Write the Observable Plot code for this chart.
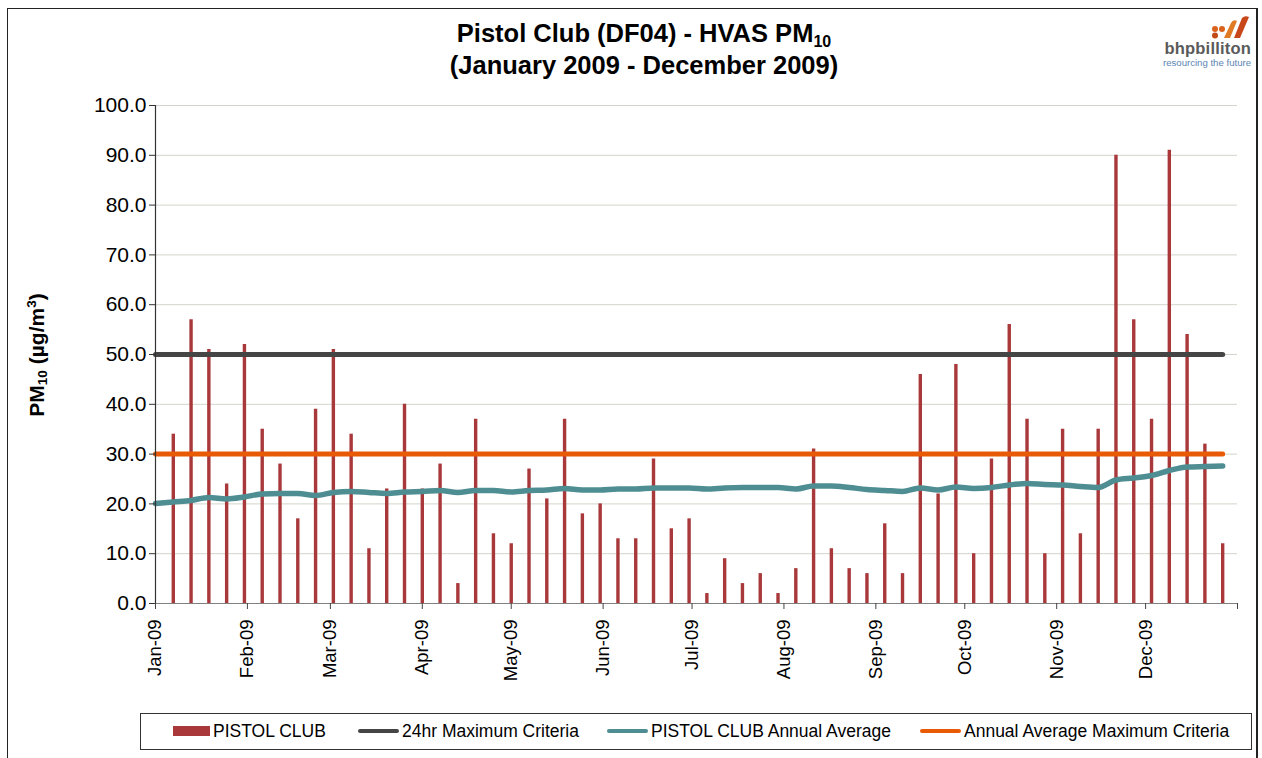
<!DOCTYPE html>
<html>
<head>
<meta charset="utf-8">
<script src="https://cdn.jsdelivr.net/npm/d3@7"></script>
<script src="https://cdn.jsdelivr.net/npm/@observablehq/plot@0.6"></script>
<style>
  html, body { margin: 0; padding: 0; background: #fff; width: 1262px; height: 758px; overflow: hidden; font-family: "Liberation Sans", Arial, sans-serif; }
  #frame { position: absolute; left: 7px; top: 8px; width: 1251px; height: 760px; border: 1px solid #222; border-right: 2px solid #222; box-sizing: border-box; }
  #chart { position: absolute; left: 0; top: 0; }
  #title { position: absolute; left: 0; width: 1288px; top: 17px; text-align: center; font-weight: bold; font-size: 25.5px; line-height: 32px; color: #000; }
  #title sub { font-size: 16px; vertical-align: -5px; line-height: 0; }
  #ylabel { position: absolute; left: 37px; top: 355px; transform: translate(-50%, -50%) rotate(-90deg); white-space: nowrap; font-weight: bold; font-size: 21px; color: #000; }
  #ylabel sub { font-size: 13.5px; vertical-align: -3px; line-height: 0; }
  #ylabel sup { font-size: 13.5px; vertical-align: 8px; line-height: 0; }
  #legend { position: absolute; left: 140px; top: 713px; width: 1112px; height: 37px; border: 1px solid #333; box-sizing: border-box; font-size: 17.5px; color: #000; }
  .item { position: absolute; top: 7px; white-space: nowrap; }
  .sw { display: inline-block; vertical-align: middle; margin-right: 3px; position: relative; top: -1px; }
  #logo { position: absolute; right: 11px; top: 15px; width: 110px; text-align: right; }
  #logo .name { font-size: 16.5px; font-weight: bold; color: #5a5a5a; letter-spacing: 0.2px; line-height: 17px; margin-top: 1px; }
  #logo .tag { font-size: 9.6px; color: #5b86b3; line-height: 12px; }
</style>
</head>
<body>
<div id="frame"></div>
<div id="chart"></div>
<div id="title">Pistol Club (DF04) - HVAS PM<sub>10</sub><br>(January 2009 - December 2009)</div>
<div id="ylabel">PM<sub>10</sub> (µg/m<sup>3</sup>)</div>
<div id="logo">
  <svg width="40" height="24" viewBox="0 0 40 24" style="display:block;margin-left:auto;margin-right:0">
    <circle cx="4" cy="14" r="3" fill="#d9621c"/>
    <circle cx="4" cy="20.5" r="3" fill="#c24a16"/>
    <circle cx="11" cy="14" r="3" fill="#d9621c"/>
    <path d="M13 23 L20 8 Q22 4 26 6 L19 23 Z" fill="#e07a25"/>
    <path d="M23 23 L31 3 Q34 0 38 2 L29 23 Z" fill="#c9461a"/>
  </svg>
  <div class="name">bhpbilliton</div>
  <div class="tag">resourcing the future</div>
</div>
<div id="legend">
  <div class="item" style="left:32px"><span class="sw" style="width:37px;height:10px;background:#a8383a"></span>PISTOL CLUB</div>
  <div class="item" style="left:217px"><span class="sw" style="width:41px;height:4px;border-radius:2px;background:#454545"></span>24hr Maximum Criteria</div>
  <div class="item" style="left:466px"><span class="sw" style="width:41px;height:4px;border-radius:2px;background:#4e8e93"></span>PISTOL CLUB Annual Average</div>
  <div class="item" style="left:779px"><span class="sw" style="width:41px;height:4px;border-radius:2px;background:#e85a05"></span>Annual Average Maximum Criteria</div>
</div>
<script>
// Sampling dates (HVAS, every sixth day)
const sampleDates = [
  "2009-01-01","2009-01-07","2009-01-13","2009-01-19","2009-01-25","2009-01-31",
  "2009-02-06","2009-02-12","2009-02-18","2009-02-24",
  "2009-03-02","2009-03-08","2009-03-14","2009-03-20","2009-03-26",
  "2009-04-01","2009-04-07","2009-04-13","2009-04-19","2009-04-25",
  "2009-05-01","2009-05-07","2009-05-13","2009-05-19","2009-05-25","2009-05-31",
  "2009-06-06","2009-06-12","2009-06-18","2009-06-24","2009-06-30",
  "2009-07-06","2009-07-12","2009-07-18","2009-07-24","2009-07-30",
  "2009-08-05","2009-08-11","2009-08-17","2009-08-23","2009-08-29",
  "2009-09-04","2009-09-10","2009-09-16","2009-09-22","2009-09-28",
  "2009-10-04","2009-10-10","2009-10-16","2009-10-22","2009-10-28",
  "2009-11-03","2009-11-09","2009-11-15","2009-11-21","2009-11-27",
  "2009-12-03","2009-12-09","2009-12-15","2009-12-21","2009-12-27"
];
// PISTOL CLUB PM10 (µg/m³), first date has no sample
const pm10 = [
  null, 34, 57, 51, 24, 52,
  35, 28, 17, 39,
  51, 34, 11, 23, 40,
  23, 28, 4, 37, 14,
  12, 27, 21, 37, 18, 20,
  13, 13, 29, 15, 17,
  2, 9, 4, 6, 2,
  7, 31, 11, 7, 6,
  16, 6, 46, 22, 48,
  10, 29, 56, 37, 10,
  35, 14, 35, 90, 57,
  37, 91, 54, 32, 12
];
// PISTOL CLUB Annual Average (running)
const annualAvg = [
  20.1, 20.4, 20.7, 21.3, 21.0, 21.4,
  22.0, 22.1, 22.1, 21.7,
  22.3, 22.5, 22.3, 22.1, 22.4,
  22.5, 22.7, 22.3, 22.7, 22.7,
  22.4, 22.7, 22.8, 23.1, 22.8, 22.8,
  23.0, 23.0, 23.2, 23.2, 23.2,
  23.0, 23.2, 23.3, 23.3, 23.3,
  23.0, 23.6, 23.6, 23.3, 22.9,
  22.7, 22.5, 23.2, 22.8, 23.4,
  23.1, 23.3, 23.8, 24.1, 23.9,
  23.8, 23.5, 23.3, 24.8, 25.2,
  25.7, 26.7, 27.4, 27.5, 27.6
];
const criteria24hr = 50;
const criteriaAnnual = 30;
const criteriaSpan = ["2009-01-01", "2009-12-27"];
const tickDates = ["2009-01-01","2009-02-01","2009-03-01","2009-04-01","2009-05-01","2009-06-01",
                   "2009-07-01","2009-08-01","2009-09-01","2009-10-01","2009-11-01","2009-12-01","2010-01-01"];
const tickLabels = ["Jan-09","Feb-09","Mar-09","Apr-09","May-09","Jun-09",
                    "Jul-09","Aug-09","Sep-09","Oct-09","Nov-09","Dec-09",""];
const yTicks = [0,10,20,30,40,50,60,70,80,90,100];

const parse = s => new Date(s + "T00:00:00Z");
const samples = sampleDates.map((d, i) => ({date: parse(d), value: pm10[i], avg: annualAvg[i]}));
const bars = samples.filter(d => d.value != null);
const line24 = criteriaSpan.map(d => ({date: parse(d), value: criteria24hr}));
const lineAnn = criteriaSpan.map(d => ({date: parse(d), value: criteriaAnnual}));
const ticks = tickDates.map(parse);

const chart = Plot.plot({
  width: 1262,
  height: 700,
  marginLeft: 155,
  marginRight: 25,
  marginTop: 105,
  marginBottom: 97,
  style: {fontFamily: "'Liberation Sans', Arial, sans-serif", background: "transparent", color: "#000"},
  x: {type: "utc", domain: [parse("2009-01-01"), parse("2010-01-01")]},
  y: {type: "linear", domain: [0, 100]},
  marks: [
    Plot.gridY(yTicks.filter(d => d > 0), {stroke: "#d4d4cc", strokeOpacity: 1, strokeWidth: 1}),
    Plot.ruleX(bars, {x: "date", y1: 0, y2: "value", stroke: "#a8383a", strokeWidth: 3.4}),
    Plot.line(line24, {x: "date", y: "value", stroke: "#454545", strokeWidth: 5, strokeLinecap: "round"}),
    Plot.line(samples, {x: "date", y: "avg", stroke: "#4e8e93", strokeWidth: 5.5, curve: "monotone-x", strokeLinecap: "round"}),
    Plot.line(lineAnn, {x: "date", y: "value", stroke: "#e85a05", strokeWidth: 5, strokeLinecap: "round"}),
    Plot.ruleY([0], {stroke: "#808080", strokeWidth: 1.2}),
    Plot.ruleX([parse("2009-01-01")], {stroke: "#333", strokeWidth: 1.2}),
    Plot.axisY({ticks: yTicks, tickFormat: d3.format(".1f"), tickSize: 6, tickPadding: 3, fontSize: 21, stroke: "#333", label: null}),
    Plot.axisX({ticks: ticks, tickFormat: (d, i) => tickLabels[i] ?? "", tickSize: 6, tickPadding: 10, tickRotate: -90, fontSize: 18.5, stroke: "#444", label: null})
  ]
});
document.getElementById("chart").appendChild(chart);
</script>
</body>
</html>
